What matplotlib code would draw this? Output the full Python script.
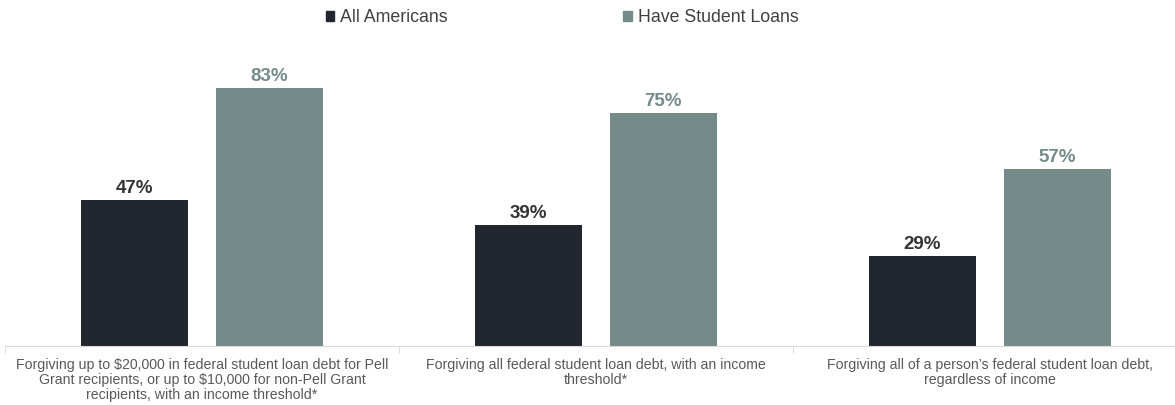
import matplotlib
matplotlib.use("Agg")
import matplotlib.pyplot as plt
import matplotlib.patches as mpatches
import numpy as np

plt.rcParams['font.family'] = ['Liberation Sans', 'DejaVu Sans']

categories = [
    "Forgiving up to $20,000 in federal student loan debt for Pell\nGrant recipients, or up to $10,000 for non-Pell Grant\nrecipients, with an income threshold*",
    "Forgiving all federal student loan debt, with an income\nthreshold*",
    "Forgiving all of a person\u2019s federal student loan debt,\nregardless of income",
]
series_names = ["All Americans", "Have Student Loans"]
all_americans = [47, 39, 29]
have_loans = [83, 75, 57]

c_dark = "#22262f"
c_teal = "#748b8a"
c_dark_lbl = "#333333"

fig = plt.figure(figsize=(11.75, 4.05), dpi=100)
ax = fig.add_axes([5/1175, 59/405, 1170/1175, 311/405])

x = np.arange(len(categories))
w = 0.272
off = 0.171
b1 = ax.bar(x - off, all_americans, w, color=c_dark)
b2 = ax.bar(x + off, have_loans, w, color=c_teal)

for r, v in zip(b1, all_americans):
    ax.text(r.get_x() + r.get_width()/2, v + 1.0, f"{v}%", ha='center', va='bottom',
            fontsize=13.5, fontweight='bold', color=c_dark_lbl)
for r, v in zip(b2, have_loans):
    ax.text(r.get_x() + r.get_width()/2, v + 1.0, f"{v}%", ha='center', va='bottom',
            fontsize=13.5, fontweight='bold', color=c_teal)

ax.set_ylim(0, 100)
ax.set_xlim(-0.5, 2.47)
for s in ['top', 'right', 'left']:
    ax.spines[s].set_visible(False)
ax.spines['bottom'].set_color('#d9d9d9')
ax.set_yticks([])
ax.set_xticks(x)
ax.set_xticklabels(categories, fontsize=10.2, color='#595959', linespacing=1.1)
ax.tick_params(axis='x', which='major', length=0, pad=8.5)
ax.set_xticks([-0.5, 0.5, 1.5], minor=True)
ax.tick_params(axis='x', which='minor', length=5, color='#d9d9d9')

handles = [mpatches.Patch(color=c_dark), mpatches.Patch(color=c_teal)]
fig.legend(handles, series_names, loc='center', bbox_to_anchor=(562/1175, 1 - 18/405),
           ncol=2, frameon=False, fontsize=12.8, handlelength=0.5, handleheight=0.5,
           handletextpad=0.3, columnspacing=9.9, labelcolor='#404040')

fig.savefig("out.png", dpi=100)
